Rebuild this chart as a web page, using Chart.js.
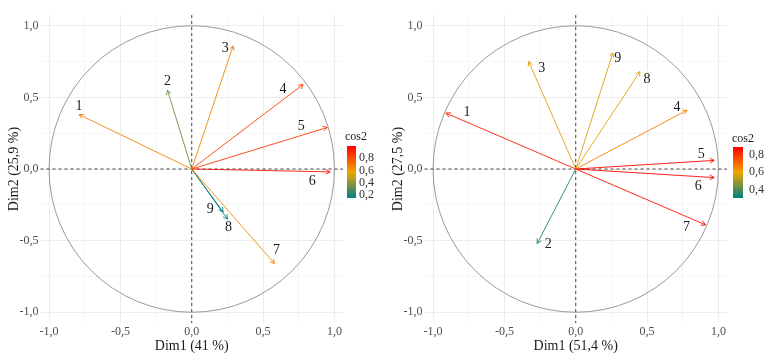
<!DOCTYPE html>
<html>
<head>
<meta charset="utf-8">
<title>PCA - cercles des corrélations</title>
<script src="https://cdn.jsdelivr.net/npm/chart.js@4.4.0/dist/chart.umd.min.js"></script>
<style>
  body { margin: 0; background: #fff; }
  .panel { position: absolute; top: 0; width: 384px; height: 361px; }
</style>
</head>
<body>
<div class="panel" style="left:0"><canvas id="chartA" width="384" height="361"></canvas></div>
<div class="panel" style="left:384px"><canvas id="chartB" width="384" height="361"></canvas></div>
<script>
// variables (labels of the arrows)
var variables = ["1", "2", "3", "4", "5", "6", "7", "8", "9"];

// left plot : Dim1 (41 %) / Dim2 (25,9 %)
var dim1A = [-0.79, -0.17, 0.29, 0.78, 0.95, 0.97, 0.58, 0.25, 0.22];
var dim2A = [0.38, 0.55, 0.86, 0.59, 0.29, -0.02, -0.66, -0.35, -0.30];
var cos2A = [0.66, 0.34, 0.66, 0.84, 0.85, 0.95, 0.64, 0.17, 0.15];

// right plot : Dim1 (51,4 %) / Dim2 (27,5 %)
var dim1B = [-0.91, -0.27, -0.33, 0.78, 0.97, 0.97, 0.91, 0.45, 0.26];
var dim2B = [0.39, -0.52, 0.75, 0.41, 0.06, -0.06, -0.39, 0.68, 0.81];
var cos2B = [0.84, 0.33, 0.57, 0.66, 0.87, 0.87, 0.86, 0.58, 0.57];

// axis ticks
var tickValues = [-1, -0.5, 0, 0.5, 1];
var tickLabels = ["-1,0", "-0,5", "0,0", "0,5", "1,0"];
var gridValues = [-1, -0.75, -0.5, -0.25, 0, 0.25, 0.5, 0.75, 1];

// colour bar
var cbarLimitsA = [0.15, 1.0];
var cbarLimitsB = [0.30, 0.89];
var cbarTicksA = [0.2, 0.4, 0.6, 0.8];
var cbarTicksB = [0.4, 0.6, 0.8];

Chart.defaults.font.family = "'Liberation Serif', 'Times New Roman', serif";

var stops = [[0, [0, 128, 128]], [0.5, [242, 165, 0]], [1, [255, 0, 0]]];
function gradColor(t) {
  t = Math.max(0, Math.min(1, t));
  for (var i = 1; i < stops.length; i++) {
    if (t <= stops[i][0]) {
      var a = stops[i - 1], b = stops[i];
      var f = (t - a[0]) / (b[0] - a[0]);
      var c = a[1].map(function (v, k) { return Math.round(v + (b[1][k] - v) * f); });
      return "rgb(" + c.join(",") + ")";
    }
  }
  return "rgb(255,0,0)";
}
function fmt(v) { return v.toFixed(1).replace(".", ","); }

// label offsets (px) relative to arrow tips
var offsetsA = [[0, -8], [0, -9], [-8, 3], [-20, 5], [-26, -1], [-18, 9], [2, -13], [1, 8], [-13, -3]];
var offsetsB = [[21, -1], [11, 1], [13, 7], [-10, -3], [-13, -6], [-16, 9], [-19, 2], [7, 8], [5, 5]];

var decorPlugin = {
  id: "decor",
  beforeDatasetsDraw: function (chart) {
    var c = chart.ctx, a = chart.chartArea, x = chart.scales.x, y = chart.scales.y;
    var cx = x.getPixelForValue(0), cy = y.getPixelForValue(0);
    c.save();
    c.strokeStyle = "#8f8f8f";
    c.lineWidth = 0.9;
    c.beginPath();
    c.ellipse(cx, cy, x.getPixelForValue(1) - cx, cy - y.getPixelForValue(1), 0, 0, Math.PI * 2);
    c.stroke();
    c.strokeStyle = "#444";
    c.lineWidth = 1;
    c.setLineDash([3, 3]);
    c.beginPath();
    c.moveTo(a.left, cy); c.lineTo(a.right, cy);
    c.moveTo(cx, a.top); c.lineTo(cx, a.bottom);
    c.stroke();
    c.restore();
  },
  afterDatasetsDraw: function (chart, args, opts) {
    var c = chart.ctx;
    c.save();
    chart.data.datasets.forEach(function (ds, i) {
      var meta = chart.getDatasetMeta(i);
      var p0 = meta.data[0], p1 = meta.data[1];
      var ang = Math.atan2(p1.y - p0.y, p1.x - p0.x);
      c.strokeStyle = ds.borderColor;
      c.lineWidth = 0.9;
      c.beginPath();
      c.moveTo(p1.x - 5 * Math.cos(ang - 0.5), p1.y - 5 * Math.sin(ang - 0.5));
      c.lineTo(p1.x, p1.y);
      c.lineTo(p1.x - 5 * Math.cos(ang + 0.5), p1.y - 5 * Math.sin(ang + 0.5));
      c.stroke();
      var off = opts.offsets[i];
      c.fillStyle = "#1a1a1a";
      c.font = "14px 'Liberation Serif', serif";
      c.textAlign = "center";
      c.textBaseline = "middle";
      c.fillText(ds.label, p1.x + off[0], p1.y + off[1]);
    });
    c.restore();
  },
  afterDraw: function (chart, args, opts) {
    var c = chart.ctx, cb = opts.cbar;
    var lo = cb.limits[0], hi = cb.limits[1];
    c.save();
    for (var yy = cb.top; yy < cb.bottom; yy++) {
      var v = hi - (yy + 0.5 - cb.top) / (cb.bottom - cb.top) * (hi - lo);
      c.fillStyle = gradColor((v - lo) / (hi - lo));
      c.fillRect(cb.x, yy, cb.w, 1);
    }
    c.fillStyle = "#1a1a1a";
    c.font = "12px 'Liberation Serif', serif";
    c.textAlign = "left";
    c.textBaseline = "middle";
    c.fillText("cos2", cb.titleX, cb.titleY);
    c.fillStyle = "#333";
    c.font = "12px 'Liberation Serif', serif";
    cb.ticks.forEach(function (t) {
      var py = cb.top + (hi - t) / (hi - lo) * (cb.bottom - cb.top);
      c.fillText(fmt(t), cb.labelX, py);
    });
    c.restore();
  }
};

function makeChart(id, dim1, dim2, cos2, limits, cticks, xTitle, yTitle, offsets, cbarPos) {
  var datasets = variables.map(function (v, i) {
    var col = gradColor((cos2[i] - limits[0]) / (limits[1] - limits[0]));
    return {
      label: v,
      data: [{ x: 0, y: 0 }, { x: dim1[i], y: dim2[i] }],
      showLine: true,
      borderColor: col,
      borderWidth: 0.9,
      pointRadius: 0
    };
  });
  function axis(min, max, title, horizontal) {
    return {
      type: "linear",
      min: min,
      max: max,
      afterBuildTicks: function (s) { s.ticks = gridValues.map(function (v) { return { value: v }; }); },
      afterFit: function (s) { if (horizontal) { s.height = 38; } else { s.width = 40.5; } },
      ticks: {
        autoSkip: false,
        maxRotation: 0,
        padding: horizontal ? 2 : 2,
        color: "#4d4d4d",
        font: { size: 12 },
        callback: function (value) {
          var k = tickValues.indexOf(value);
          return k >= 0 ? tickLabels[k] : "";
        }
      },
      grid: {
        drawTicks: false,
        color: function (ctx) {
          return tickValues.indexOf(ctx.tick.value) >= 0 ? "#ececec" : "#f5f5f5";
        },
        lineWidth: 1
      },
      border: { display: false },
      title: {
        display: true,
        text: title,
        color: "#1a1a1a",
        font: { size: 14 },
        padding: horizontal ? { top: 0, bottom: 6.6 } : { top: 5.6, bottom: 0 }
      }
    };
  }
  return new Chart(document.getElementById(id), {
    type: "scatter",
    data: { datasets: datasets },
    options: {
      responsive: false,
      animation: false,
      layout: { padding: { top: 15, right: 41, bottom: 0, left: 0 } },
      scales: {
        x: axis(-1.06, 1.06, xTitle, true),
        y: axis(-1.075, 1.075, yTitle, false)
      },
      plugins: {
        legend: { display: false },
        tooltip: { enabled: false },
        decor: {
          offsets: offsets,
          cbar: Object.assign({ limits: limits, ticks: cticks }, cbarPos)
        }
      }
    },
    plugins: [decorPlugin]
  });
}

makeChart("chartA", dim1A, dim2A, cos2A, cbarLimitsA, cbarTicksA, "Dim1 (41 %)", "Dim2 (25,9 %)", offsetsA,
  { x: 347, w: 9, top: 146, bottom: 198, titleX: 345, titleY: 137, labelX: 359 });
makeChart("chartB", dim1B, dim2B, cos2B, cbarLimitsB, cbarTicksB, "Dim1 (51,4 %)", "Dim2 (27,5 %)", offsetsB,
  { x: 349, w: 10, top: 147, bottom: 198, titleX: 348, titleY: 139, labelX: 365 });
</script>
</body>
</html>
